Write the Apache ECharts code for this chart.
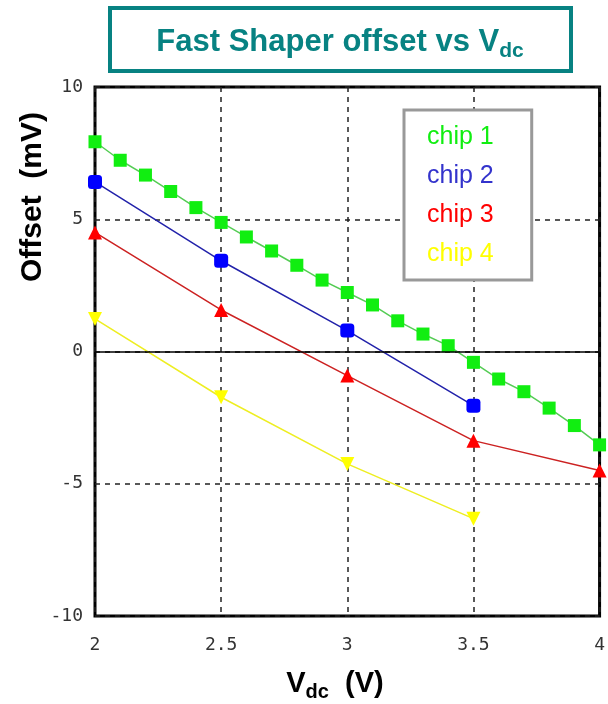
<!DOCTYPE html>
<html><head><meta charset="utf-8">
<script src="https://cdn.jsdelivr.net/npm/echarts@6/dist/echarts.min.js"></script>
<style>html,body{margin:0;padding:0;background:#fff}#c{width:608px;height:704px}</style>
</head><body><div id="c"></div>
<script>
const chip1X = [2.0, 2.1, 2.2, 2.3, 2.4, 2.5, 2.6, 2.7, 2.8, 2.9, 3.0, 3.1, 3.2, 3.3, 3.4, 3.5, 3.6, 3.7, 3.8, 3.9, 4.0];
const chip1Y = [7.93, 7.23, 6.67, 6.05, 5.44, 4.88, 4.33, 3.80, 3.26, 2.70, 2.23, 1.76, 1.16, 0.66, 0.22, -0.41, -1.04, -1.52, -2.14, -2.80, -3.53];
const chip2X = [2.0, 2.5, 3.0, 3.5];
const chip2Y = [6.41, 3.43, 0.79, -2.05];
const chip3X = [2.0, 2.5, 3.0, 3.5, 4.0];
const chip3Y = [4.5, 1.57, -0.91, -3.37, -4.5];
const chip4X = [2.0, 2.5, 3.0, 3.5];
const chip4Y = [1.23, -1.73, -4.25, -6.32];
const seriesNames = ['chip 1', 'chip 2', 'chip 3', 'chip 4'];
const xTicks = [2, 2.5, 3, 3.5, 4];
const yTicks = [-10, -5, 0, 5, 10];

const pairs = (xs, ys) => xs.map((x, i) => [x, ys[i]]);
const teal = '#078282';
const chart = echarts.init(document.getElementById('c'));
const axisFont = {fontFamily: 'DejaVu Sans Mono', fontSize: 18, color: '#333'};
chart.setOption({
  animation: false,
  grid: {left: 95, right: 2, top: 87, bottom: 88, show: true, borderColor: '#000', borderWidth: 3, backgroundColor: '#fff'},
  xAxis: {
    type: 'value', min: xTicks[0], max: xTicks[xTicks.length - 1], interval: 0.5,
    axisLine: {show: false}, axisTick: {show: false},
    axisLabel: Object.assign({margin: 20, formatter: v => String(v)}, axisFont),
    splitLine: {show: true, lineStyle: {color: '#222', type: [5, 5], width: 1.5}}
  },
  yAxis: {
    type: 'value', min: yTicks[0], max: yTicks[yTicks.length - 1], interval: 5,
    axisLine: {show: false}, axisTick: {show: false},
    axisLabel: Object.assign({margin: 12}, axisFont),
    splitLine: {show: true, lineStyle: {color: '#222', type: [5, 5], width: 1.5}}
  },
  legend: {
    orient: 'vertical', left: 404, top: 110,
    icon: 'none', itemWidth: 0, itemHeight: 24, itemGap: 14,
    padding: [15, 38, 13, 18],
    borderColor: '#999', borderWidth: 3, backgroundColor: '#fff',
    textStyle: {fontFamily: 'Liberation Sans', fontSize: 25},
    data: [
      {name: seriesNames[0], textStyle: {color: '#11ee11'}},
      {name: seriesNames[1], textStyle: {color: '#3333cc'}},
      {name: seriesNames[2], textStyle: {color: '#ff0000'}},
      {name: seriesNames[3], textStyle: {color: '#ffff00'}}
    ]
  },
  graphic: [
    {type: 'rect', shape: {x: 110, y: 8, width: 461, height: 63}, style: {fill: '#fff', stroke: teal, lineWidth: 4}},
    {type: 'text', x: 340, y: 42, style: {
      text: '{a|Fast Shaper offset vs V}{b|dc}', align: 'center', verticalAlign: 'middle',
      rich: {a: {fontFamily: 'Liberation Sans', fontWeight: 'bold', fontSize: 31, fill: teal, color: teal},
             b: {fontFamily: 'Liberation Sans', fontWeight: 'bold', fontSize: 21, fill: teal, color: teal, padding: [18, 0, 0, 0]}}
    }},
    {type: 'text', x: 33, y: 197, rotation: Math.PI / 2, style: {
      text: 'Offset  (mV)', align: 'center', verticalAlign: 'middle',
      font: 'bold 30px "Liberation Sans"', fill: '#000'
    }},
    {type: 'text', x: 335, y: 684, style: {
      text: '{a|V}{b|dc}{a|  (V)}', align: 'center', verticalAlign: 'middle',
      rich: {a: {fontFamily: 'Liberation Sans', fontWeight: 'bold', fontSize: 29, fill: '#000', color: '#000'},
             b: {fontFamily: 'Liberation Sans', fontWeight: 'bold', fontSize: 20, fill: '#000', color: '#000', padding: [17, 0, 0, 0]}}
    }}
  ],
  series: [
    {name: seriesNames[3], type: 'line', data: pairs(chip4X, chip4Y), symbol: 'triangle', symbolRotate: 180, symbolSize: 14,
     itemStyle: {color: '#ffff00'}, lineStyle: {color: '#eeee22', width: 1.5},
     markLine: {silent: true, symbol: 'none', label: {show: false}, lineStyle: {color: '#000', type: 'solid', width: 1.5}, data: [{yAxis: 0}]}},
    {name: seriesNames[2], type: 'line', data: pairs(chip3X, chip3Y), symbol: 'triangle', symbolSize: 14,
     itemStyle: {color: '#ff0000'}, lineStyle: {color: '#cc2222', width: 1.5}},
    {name: seriesNames[1], type: 'line', data: pairs(chip2X, chip2Y), symbol: 'roundRect', symbolSize: 14,
     itemStyle: {color: '#0000ff'}, lineStyle: {color: '#2222aa', width: 1.5}},
    {name: seriesNames[0], type: 'line', data: pairs(chip1X, chip1Y), symbol: 'rect', symbolSize: 13,
     itemStyle: {color: '#11ee11'}, lineStyle: {color: '#55cc55', width: 1.5}}
  ]
});
</script></body></html>
